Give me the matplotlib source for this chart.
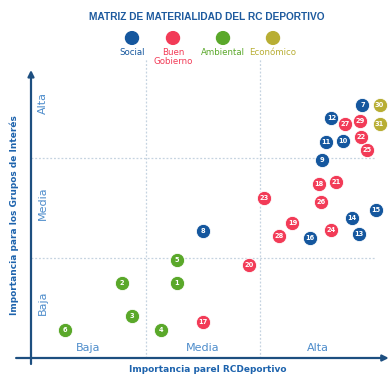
import matplotlib.pyplot as plt

# ------------------------------------------------------------
# Data
# ------------------------------------------------------------

categories = ["Social", "Buen\nGobierno", "Ambiental", "Económico"]
category_colors = ["#15579e", "#f23b57", "#5aa82a", "#b8ae34"]

issue_ids = [1, 2, 3, 4, 5, 6, 7, 8, 9, 10,
             11, 12, 13, 14, 15, 16, 17, 18, 19, 20,
             21, 22, 23, 24, 25, 26, 27, 28, 29, 30, 31]

# 0 = Social, 1 = Buen Gobierno, 2 = Ambiental, 3 = Económico
issue_category = [2, 2, 2, 2, 2, 2, 0, 0, 0, 0,
                  0, 0, 0, 0, 0, 0, 1, 1, 1, 1,
                  1, 1, 1, 1, 1, 1, 1, 1, 1, 3, 3]

# importancia para el RC Deportivo (0-3)
importance_club = [1.27, 0.79, 0.88, 1.13, 1.27, 0.30, 2.89, 1.50, 2.54, 2.72,
                   2.57, 2.62, 2.86, 2.80, 3.01, 2.43, 1.50, 2.51, 2.28, 1.90,
                   2.66, 2.88, 2.03, 2.62, 2.93, 2.53, 2.74, 2.16, 2.87, 3.04, 3.04]

# importancia para los grupos de interés (0-3)
importance_groups = [0.75, 0.75, 0.42, 0.28, 0.98, 0.28, 2.53, 1.27, 1.98, 2.17,
                     2.16, 2.40, 1.24, 1.40, 1.48, 1.20, 0.36, 1.74, 1.35, 0.93,
                     1.76, 2.21, 1.60, 1.28, 2.08, 1.56, 2.34, 1.22, 2.37, 2.53, 2.34]

x_tick_labels = ["Baja", "Media", "Alta"]
y_tick_labels = ["Baja", "Media", "Alta"]

NAVY = "#1d4f80"
LIGHT_BLUE = "#4d8ccb"
TEXT_BLUE = "#1d63ad"

# ------------------------------------------------------------
# Figure
# ------------------------------------------------------------

fig = plt.figure(figsize=(3.88, 3.79), dpi=100)
W, H = 388, 379
x0, x1 = 31, 375
y0, y1 = 358, 58
ax = fig.add_axes([x0 / W, (H - y0) / H, (x1 - x0) / W, (y0 - y1) / H])
ax.set_xlim(0, 3)
ax.set_ylim(0, 3)
ax.axis("off")

# dashed grid
for v in [1, 2]:
    ax.plot([v, v], [0, 3], color="#c5d3e0", lw=0.9, ls=(0, (1.5, 1.5)), zorder=1)
    ax.plot([0, 3], [v, v], color="#c5d3e0", lw=0.9, ls=(0, (1.5, 1.5)), zorder=1)

# axes with arrows
ax.annotate("", xy=(3.12, 0), xytext=(-0.13, 0),
            arrowprops=dict(arrowstyle="-|>", color=NAVY, lw=1.6,
                            mutation_scale=9, shrinkA=0, shrinkB=0),
            annotation_clip=False)
ax.annotate("", xy=(0, 2.88), xytext=(0, -0.06),
            arrowprops=dict(arrowstyle="-|>", color=NAVY, lw=1.6,
                            mutation_scale=9, shrinkA=0, shrinkB=0),
            annotation_clip=False)

# tick labels
for i, label in enumerate(x_tick_labels):
    ax.text(i + 0.5, 0.1, label, color=LIGHT_BLUE, fontsize=8,
            ha="center", va="center")
for i, label in enumerate(y_tick_labels):
    ax.text(0.1, i + 0.55, label, color=LIGHT_BLUE, fontsize=8,
            ha="center", va="center", rotation=90)

# points
for n, cat, xv, yv in zip(issue_ids, issue_category, importance_club, importance_groups):
    ax.scatter(xv, yv, s=105, color=category_colors[cat], edgecolor="white",
               linewidth=0.6, zorder=3, clip_on=False)
    ax.text(xv, yv, str(n), color="white", fontsize=4.8, fontweight="bold",
            ha="center", va="center", zorder=4)

# axis labels
fig.text(208 / W, 1 - 370 / H, "Importancia parel RCDeportivo", color=TEXT_BLUE,
         fontsize=6.5, fontweight="bold", ha="center", va="center")
fig.text(14 / W, 1 - 215 / H, "Importancia para los Grupos de Interés", color=TEXT_BLUE,
         fontsize=6.5, fontweight="bold", ha="center", va="center", rotation=90)

# title
fig.text(207 / W, 1 - 17 / H, "MATRIZ DE MATERIALIDAD DEL RC DEPORTIVO",
         color="#1d5a9e", fontsize=7.3, fontweight="bold", ha="center", va="center",
         family=["Liberation Sans Narrow", "Liberation Sans", "DejaVu Sans"])

# legend
legend_x = [132, 173, 223, 273]
for lx, cat, col in zip(legend_x, categories, category_colors):
    fig.add_artist(plt.Circle((lx / W, 1 - 38 / H), 6.5 / W, color=col,
                              transform=fig.transFigure))
    fig.text(lx / W, 1 - 48 / H, cat, color=col, fontsize=6.2,
             ha="center", va="top", linespacing=0.95)

fig.savefig("out.png", dpi=100)
